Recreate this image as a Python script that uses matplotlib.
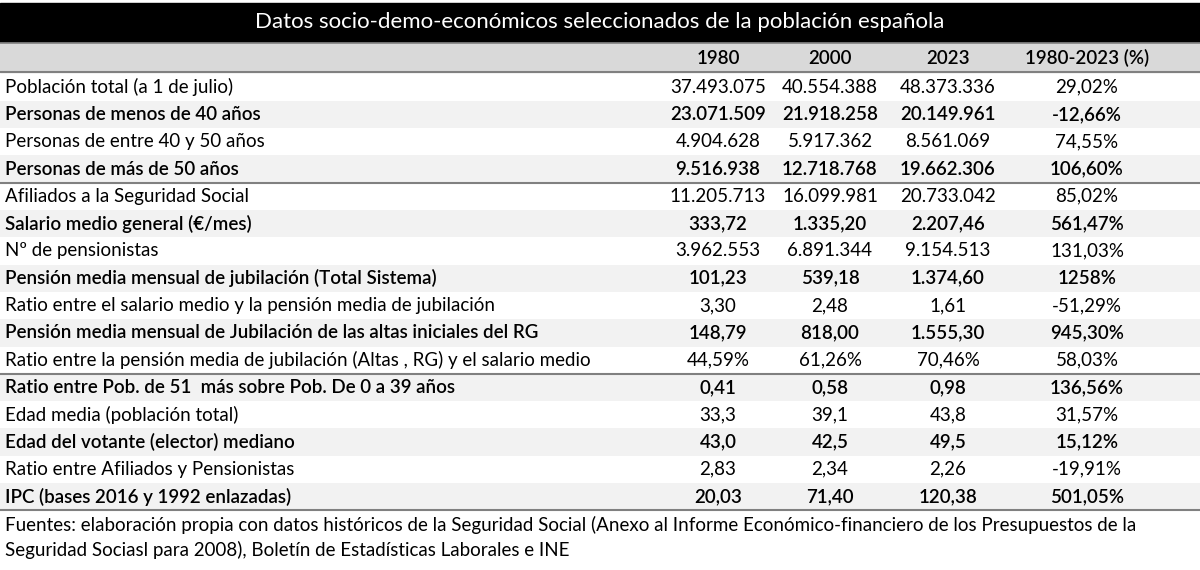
import matplotlib.pyplot as plt
from matplotlib.patches import Rectangle

plt.rcParams['font.family'] = ['Lato', 'DejaVu Sans']

title = 'Datos socio-demo-económicos seleccionados de la población española'
columns = ['1980', '2000', '2023', '1980-2023 (%)']
labels = [
    'Población total (a 1 de julio)',
    'Personas de menos de 40 años',
    'Personas de entre 40 y 50 años',
    'Personas de más de 50 años',
    'Afiliados a la Seguridad Social',
    'Salario medio general (€/mes)',
    'Nº de pensionistas',
    'Pensión media mensual de jubilación (Total Sistema)',
    'Ratio entre el salario medio y la pensión media de jubilación',
    'Pensión media mensual de Jubilación de las altas iniciales del RG',
    'Ratio entre la pensión media de jubilación (Altas , RG) y el salario medio',
    'Ratio entre Pob. de 51  más sobre Pob. De 0 a 39 años',
    'Edad media (población total)',
    'Edad del votante (elector) mediano',
    'Ratio entre Afiliados y Pensionistas',
    'IPC (bases 2016 y 1992 enlazadas)',
]
v1980 = ['37.493.075', '23.071.509', '4.904.628', '9.516.938', '11.205.713', '333,72',
         '3.962.553', '101,23', '3,30', '148,79', '44,59%', '0,41', '33,3', '43,0', '2,83', '20,03']
v2000 = ['40.554.388', '21.918.258', '5.917.362', '12.718.768', '16.099.981', '1.335,20',
         '6.891.344', '539,18', '2,48', '818,00', '61,26%', '0,58', '39,1', '42,5', '2,34', '71,40']
v2023 = ['48.373.336', '20.149.961', '8.561.069', '19.662.306', '20.733.042', '2.207,46',
         '9.154.513', '1.374,60', '1,61', '1.555,30', '70,46%', '0,98', '43,8', '49,5', '2,26', '120,38']
vchg = ['29,02%', '-12,66%', '74,55%', '106,60%', '85,02%', '561,47%', '131,03%', '1258%',
        '-51,29%', '945,30%', '58,03%', '136,56%', '31,57%', '15,12%', '-19,91%', '501,05%']
source = ['Fuentes: elaboración propia con datos históricos de la Seguridad Social (Anexo al Informe Económico-financiero de los Presupuestos de la',
          'Seguridad Sociasl para 2008), Boletín de Estadísticas Laborales e INE']

fig = plt.figure(figsize=(12, 5.7), dpi=100)
ax = fig.add_axes([0, 0, 1, 1])
ax.set_xlim(0, 1200)
ax.set_ylim(570, 0)
ax.axis('off')

FS = 13.5

# title bar and header
ax.add_patch(Rectangle((0, 3), 1200, 39, color='black'))
ax.text(600, 22, title, color='white', ha='center', va='center', fontsize=16)
ax.add_patch(Rectangle((0, 43), 1200, 29, color='#d9d9d9'))
col_x = [718, 830, 948, 1087]
for x, c in zip(col_x, columns):
    ax.text(x, 58, c, ha='center', va='center', fontsize=FS, fontweight='semibold')
ax.plot([0, 1200], [43, 43], color='#808080', lw=1.2)
ax.plot([0, 1200], [72, 72], color='#808080', lw=1.5)

top, h = 73.5, 27.3
for i, lab in enumerate(labels):
    y0 = top + i * h
    yc = y0 + h / 2
    bold = i % 2 == 1
    if bold:
        ax.add_patch(Rectangle((0, y0), 1200, h, color='#f2f2f2', lw=0))
    w = 'semibold' if bold else 'normal'
    ax.text(5, yc, lab, ha='left', va='center', fontsize=FS, fontweight=w)
    for x, vals in zip(col_x, [v1980, v2000, v2023, vchg]):
        ax.text(x, yc, vals[i], ha='center', va='center', fontsize=FS, fontweight=w)

for k in [4, 11, 16]:
    y = top + k * h
    ax.plot([0, 1200], [y, y], color='#808080', lw=1.5)

for j, line in enumerate(source):
    ax.text(5, 525 + j * 25, line, ha='left', va='center', fontsize=FS)

fig.savefig('out.png', dpi=100)
